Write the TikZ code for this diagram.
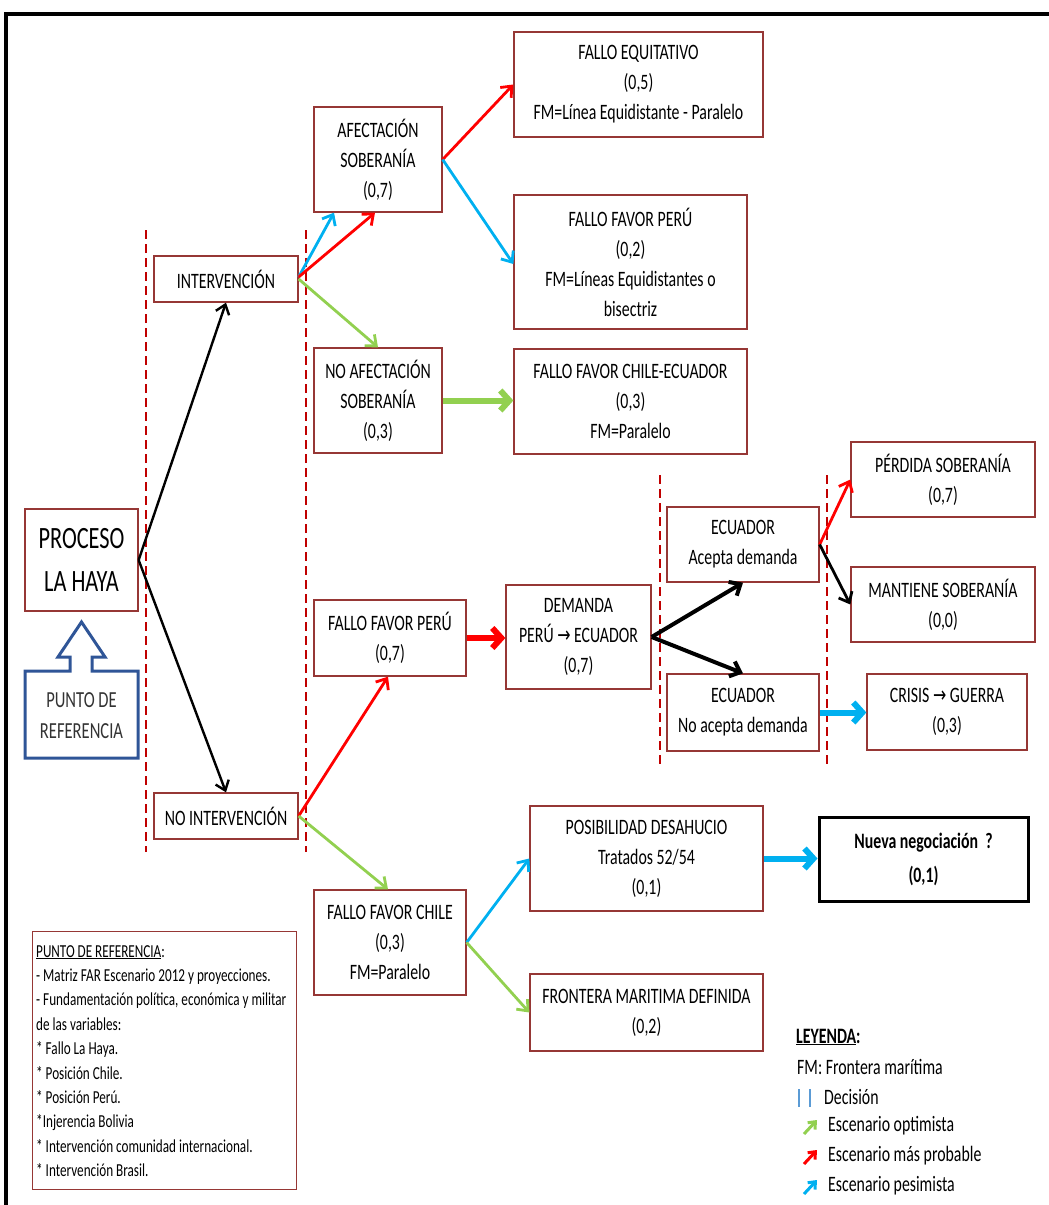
\documentclass[tikz,border=0pt]{standalone}
\usepackage{fontspec}
\setmainfont{Carlito}[FakeStretch=0.72]
\newfontfamily\symf{DejaVu Sans}[FakeStretch=0.72]
\usetikzlibrary{arrows.meta,calc}
\definecolor{boxred}{RGB}{150,55,53}
\definecolor{dashred}{RGB}{192,0,0}
\definecolor{agreen}{RGB}{146,208,80}
\definecolor{ablue}{RGB}{0,176,240}
\definecolor{ared}{RGB}{255,0,0}
\definecolor{refblue}{RGB}{47,85,151}
\definecolor{legblue}{RGB}{91,155,213}
\newcommand{\ra}{{\symf →}}
\begin{document}
\begin{tikzpicture}[x=1pt,y=-1pt,
  box/.style={draw=boxred, line width=1.3pt, fill=white, align=center, inner sep=0pt,
    font=\fontsize{22}{30}\selectfont},
  decline/.style={draw=dashred, line width=2pt, dash pattern=on 9pt off 5pt},
  thinar/.style={line width=2.8pt, -{Straight Barb[length=9pt,width=15pt]}},
  thickar/.style={line width=6pt, -{Straight Barb[length=9pt,width=20pt]}},
  blkar/.style={line width=2.4pt, black, -{Straight Barb[length=9pt,width=14pt]}},
  legtxt/.style={anchor=west, inner sep=0pt, font=\fontsize{22}{30}\selectfont},
  legar/.style={line width=3pt, -{Straight Barb[length=6pt,width=10pt]}}
]
\useasboundingbox (0,0) rectangle (1049,1205);
% frame
\draw[line width=3.5pt] (1049,14) -- (6,14) -- (6,1205);

% decision lines
\draw[decline] (146,230) -- (146,852);
\draw[decline] (306,230) -- (306,852);
\draw[decline] (660,475) -- (660,765);
\draw[decline] (827,475) -- (827,765);

% nodes
\node[box, minimum width=113pt, minimum height=102pt, font=\fontsize{31}{43}\selectfont] (proceso) at (81.5,560) {PROCESO\\LA HAYA};
\node[box, minimum width=144pt, minimum height=46pt] (interv) at (226,279) {INTERVENCIÓN};
\node[box, minimum width=144pt, minimum height=46pt] (noint) at (226,816) {NO INTERVENCIÓN};
\node[box, minimum width=128pt, minimum height=105pt] (afect) at (378,159.5) {AFECTACIÓN\\SOBERANÍA\\(0,7)};
\node[box, minimum width=128pt, minimum height=105pt] (noafect) at (378,400.5) {NO AFECTACIÓN\\SOBERANÍA\\(0,3)};
\node[box, minimum width=249pt, minimum height=105pt] (equit) at (638.5,84.5) {FALLO EQUITATIVO\\(0,5)\\FM=Línea Equidistante - Paralelo};
\node[box, minimum width=233pt, minimum height=134pt] (favperuA) at (630.5,262) {FALLO FAVOR PERÚ\\(0,2)\\FM=Líneas Equidistantes o\\bisectriz};
\node[box, minimum width=233pt, minimum height=105pt] (chileec) at (630.5,401.5) {FALLO FAVOR CHILE-ECUADOR\\(0,3)\\FM=Paralelo};
\node[box, minimum width=152pt, minimum height=76pt] (favperuB) at (390,638) {FALLO FAVOR PERÚ\\(0,7)};
\node[box, minimum width=145pt, minimum height=104pt] (demanda) at (578.5,637) {DEMANDA\\PERÚ \ra{} ECUADOR\\(0,7)};
\node[box, minimum width=152pt, minimum height=75pt] (acepta) at (743,544.5) {ECUADOR\\Acepta demanda};
\node[box, minimum width=152pt, minimum height=77pt] (noacepta) at (743,712.5) {ECUADOR\\No acepta demanda};
\node[box, minimum width=184pt, minimum height=75pt] (perdida) at (943,479.5) {PÉRDIDA SOBERANÍA\\(0,7)};
\node[box, minimum width=184pt, minimum height=75pt] (mantiene) at (943,604.5) {MANTIENE SOBERANÍA\\(0,0)};
\node[box, minimum width=160pt, minimum height=76pt] (crisis) at (947,712) {CRISIS \ra{} GUERRA\\(0,3)};
\node[box, minimum width=233pt, minimum height=105pt] (posib) at (646.5,858.5) {POSIBILIDAD DESAHUCIO\\Tratados 52/54\\(0,1)};
\node[box, draw=black, line width=3pt, minimum width=209pt, minimum height=84pt, font=\fontsize{22}{34}\selectfont\bfseries] (nueva) at (923.5,859) {Nueva negociación\ \ ?\\(0,1)};
\node[box, minimum width=152pt, minimum height=105pt] (favchile) at (390,942.5) {FALLO FAVOR CHILE\\(0,3)\\FM=Paralelo};
\node[box, minimum width=233pt, minimum height=77pt] (frontera) at (646.5,1012.5) {FRONTERA MARITIMA DEFINIDA\\(0,2)};

% reference arrow-box
\draw[refblue, line width=3pt, line join=miter] (25,758) -- (25,671) -- (70,671) -- (70,657) -- (58,657) -- (81.5,622) -- (105,657) -- (92,657) -- (92,671) -- (138,671) -- (138,758) -- cycle;
\node[align=center, inner sep=0pt, font=\fontsize{23}{31}\selectfont, text=black!80] (punto) at (81.5,716) {PUNTO DE\\REFERENCIA};

% reference notes box
\node[draw=boxred, line width=1.3pt, anchor=north west, minimum width=264pt, minimum height=258pt] (refbox) at (32,931) {};
\node[anchor=west, inner sep=0pt, align=left, font=\fontsize{18.3}{24.4}\selectfont] (reftext) at (36,1061)
  {\underline{PUNTO DE REFERENCIA}:\\
  - Matriz FAR Escenario 2012 y proyecciones.\\
  - Fundamentación política, económica y militar\\
  de las variables:\\
  {}* Fallo La Haya.\\
  {}* Posición Chile.\\
  {}* Posición Perú.\\
  {}*Injerencia Bolivia\\
  {}* Intervención comunidad internacional.\\
  {}* Intervención Brasil.};

% arrows
\draw[blkar] (proceso.east) -- (interv.south);
\draw[blkar] (proceso.east) -- (noint.north);
\draw[thinar, ablue] ([yshift=2pt]interv.east) -- ([xshift=-44pt]afect.south);
\draw[thinar, ared] ([yshift=2pt]interv.east) -- ([xshift=-3pt]afect.south);
\draw[thinar, agreen] (interv.east) -- (noafect.north);
\draw[thinar, ared] (afect.east) -- (equit.west);
\draw[thinar, ablue] (afect.east) -- ([yshift=-2pt]favperuA.west);
\draw[thickar, agreen] (noafect.east) -- (chileec.west |- noafect.east);
\draw[thinar, ared] (noint.east) -- ([xshift=-2pt]favperuB.south);
\draw[thinar, agreen] (noint.east) -- ([xshift=-2pt]favchile.north);
\draw[thickar, ared] (favperuB.east) -- (demanda.west |- favperuB.east);
\draw[line width=4pt, black, -{Straight Barb[length=9pt,width=16pt]}] (demanda.east) -- (acepta.south);
\draw[line width=4pt, black, -{Straight Barb[length=9pt,width=16pt]}] (demanda.east) -- (noacepta.north);
\draw[thinar, ared] (acepta.east) -- (perdida.west);
\draw[thinar, black] (acepta.east) -- (mantiene.west);
\draw[thickar, ablue] (noacepta.east) -- (crisis.west |- noacepta.east);
\draw[thinar, ablue] (favchile.east) -- (posib.west);
\draw[thinar, agreen] (favchile.east) -- (frontera.west);
\draw[thickar, ablue] (posib.east) -- (nueva.west |- posib.east);

% legend
\node[legtxt, font=\fontsize{22}{30}\selectfont\bfseries] (legA) at (796,1037) {\underline{LEYENDA}:};
\node[legtxt] (legB) at (797,1067) {FM: Frontera marítima};
\coordinate (decA) at (799,1089);
\coordinate (decB) at (810,1089);
\draw[legblue, line width=1.5pt] (decA) -- ++(0,18);
\draw[legblue, line width=1.5pt] (decB) -- ++(0,18);
\node[legtxt] (legC) at (824,1097) {Decisión};
\coordinate (gA) at (804,1134);
\coordinate (rA) at (804,1164);
\coordinate (bA) at (804,1194);
\draw[legar, agreen] (gA) -- ++(13,-14);
\draw[legar, ared] (rA) -- ++(13,-14);
\draw[legar, ablue] (bA) -- ++(13,-14);
\node[legtxt] (legD) at (828,1126) {Escenario optimista};
\node[legtxt] (legE) at (828,1156) {Escenario más probable};
\node[legtxt] (legF) at (828,1186) {Escenario pesimista};
\end{tikzpicture}
\end{document}
